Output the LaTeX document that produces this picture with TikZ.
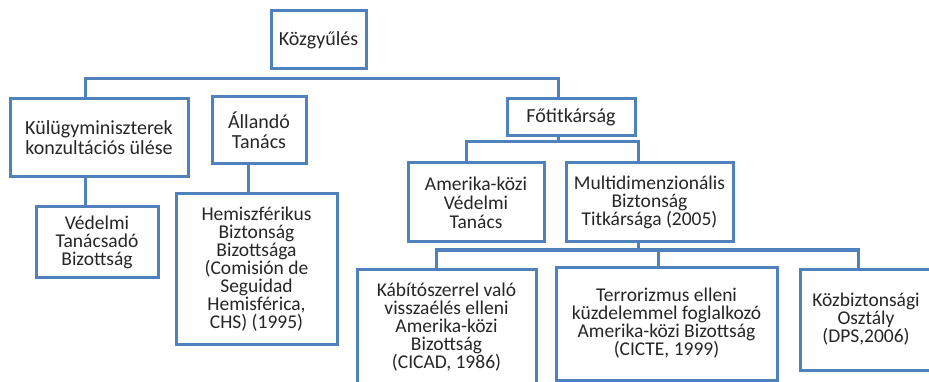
\documentclass[tikz,border=0pt]{standalone}
\usepackage{fontspec}
\setmainfont{Carlito}
\definecolor{boxblue}{HTML}{4F81BD}
\definecolor{txtgray}{HTML}{262626}
\begin{document}
\begin{tikzpicture}[x=1pt,y=-1pt,
  box/.style={draw=boxblue, line width=3pt, fill=white, align=center, inner sep=0pt,
    font=\fontsize{19.5}{18}\selectfont, text=txtgray},
  boxtwo/.style={box, font=\fontsize{20}{20}\selectfont},
  link/.style={draw=boxblue, line width=3pt}]
\useasboundingbox (0,0) rectangle (929,382);
\coordinate (busA) at (0,79);
\coordinate (busB) at (0,142);
\coordinate (busC) at (0,250);
% nodes
\node[boxtwo, minimum width=95pt, minimum height=58pt] (kozgy) at (318.5,40) {Közgyűlés};
\node[boxtwo, minimum width=178pt, minimum height=78pt] (kulugy) at (99,138) {Külügyminiszterek\\konzultációs ülése};
\node[boxtwo, minimum width=94pt, minimum height=67pt] (allando) at (259,130.5) {Állandó\\Tanács};
\node[boxtwo, minimum width=128pt, minimum height=37pt] (fotit) at (571,117.5) {Főtitkárság};
\node[box, font=\fontsize{19.5}{19}\selectfont, minimum width=136pt, minimum height=79pt] (amerika) at (476,202.5) {Amerika-közi\\Védelmi\\Tanács};
\node[box, minimum width=167pt, minimum height=79pt] (multi) at (649.5,202.5) {Multidimenzionális\\Biztonság\\Titkársága (2005)};
\node[box, minimum width=122pt, minimum height=70pt] (vedelmi) at (97,242) {Védelmi\\Tanácsadó\\Bizottság};
\node[box, minimum width=161pt, minimum height=150pt] (hemi) at (256.5,269) {Hemiszférikus\\Biztonság\\Bizottsága\\(Comisión de\\Seguidad\\Hemisférica,\\CHS) (1995)};
\node[box, minimum width=179pt, minimum height=116pt] (kabito) at (446.5,327) {Kábítószerrel való\\visszaélés elleni\\Amerika-közi\\Bizottság\\(CICAD, 1986)};
\node[box, minimum width=221pt, minimum height=113pt] (terror) at (666.5,323.5) {Terrorizmus elleni\\küzdelemmel foglalkozó\\Amerika-közi Bizottság\\(CICTE, 1999)};
\node[box, minimum width=132pt, minimum height=101pt] (kozbiz) at (866,319.5) {Közbiztonsági\\Osztály\\(DPS,2006)};
% top bus
\draw[link] ([xshift=-14pt]kulugy.north) |- ([xshift=-13pt]fotit.north |- busA) -- ([xshift=-13pt]fotit.north);
% kulugy -> vedelmi
\draw[link] ([xshift=-14pt]kulugy.south) -- ([xshift=-14pt]kulugy.south |- vedelmi.north);
% allando -> hemi
\draw[link] ([xshift=-11pt]allando.south) -- ([xshift=-11pt]allando.south |- hemi.north);
% fotit -> amerika, multi
\draw[link] ([xshift=-13pt]fotit.south) -- ([xshift=-13pt]fotit.south |- busB);
\draw[link] ([xshift=-10pt]amerika.north) |- ([xshift=-11.5pt]multi.north |- busB) -- ([xshift=-11.5pt]multi.north);
% multi -> bottom row
\draw[link] ([xshift=-11.5pt]multi.south) -- ([xshift=-11.5pt]multi.south |- busC);
\draw[link] ([xshift=-10.5pt]kabito.north) |- ([xshift=-8pt]kozbiz.north |- busC) -- ([xshift=-8pt]kozbiz.north);
\draw[link] ([xshift=-8.5pt]terror.north) -- ([xshift=-8.5pt]terror.north |- busC);
\end{tikzpicture}
\end{document}
